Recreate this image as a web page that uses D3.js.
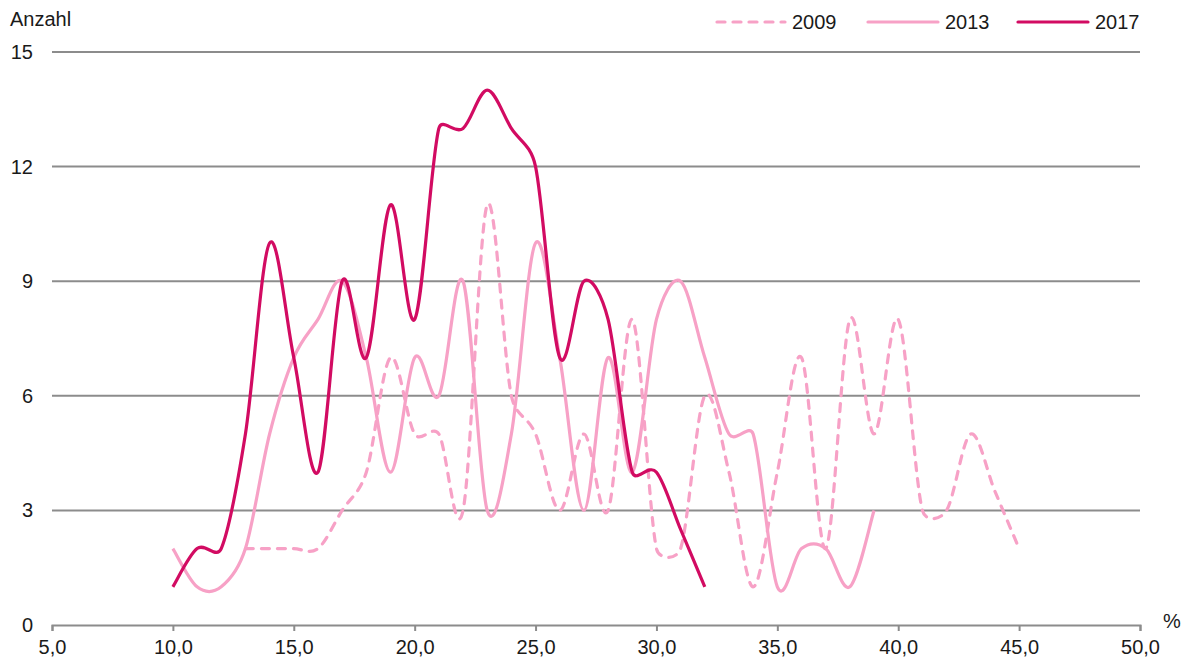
<!DOCTYPE html>
<html><head><meta charset="utf-8">
<script src="https://cdn.jsdelivr.net/npm/d3@7"></script>
<style>
body{margin:0;background:#fff;}
text{font-family:"Liberation Sans",Arial,Helvetica,sans-serif;fill:#1a1a1a;}
</style></head>
<body><svg id="c" width="1190" height="668"></svg>
<script>
const x2009 = [13,14,15,16,17,18,19,20,21,22,23,24,25,26,27,28,29,30,31,32,33,34,35,36,37,38,39,40,41,42,43,44,45];
const v2009 = [2,2,2,2,3,4,7,5,5,3,11,6,5,3,5,3,8,2,2,6,4,1,4,7,2,8,5,8,3,3,5,3.5,2];
const x2013 = [10,11,12,13,14,15,16,17,18,19,20,21,22,23,24,25,26,27,28,29,30,31,32,33,34,35,36,37,38,39];
const v2013 = [2,1,1,2,5,7,8,9,7,4,7,6,9,3,5,10,7,3,7,4,8,9,7,5,5,1,2,2,1,3];
const x2017 = [10,11,12,13,14,15,16,17,18,19,20,21,22,23,24,25,26,27,28,29,30,31,32];
const v2017 = [1,2,2,5,10,7,4,9,7,11,8,13,13,14,13,12,7,9,8,4,4,2.5,1];
const xTicks = [5,10,15,20,25,30,35,40,45,50];
const yTicks = [0,3,6,9,12,15];
const seriesNames = ["2009","2013","2017"];

const colors = {"2009":"#f7a1c6","2013":"#f7a1c6","2017":"#d20b62"};
const FS = 20;
const svg = d3.select("#c");
const x = d3.scaleLinear().domain([5,50]).range([52,1140]);
const y = d3.scaleLinear().domain([0,15]).range([625,52]);
const fmt = d => d.toFixed(1).replace(".", ",");

svg.append("g").selectAll("line").data(yTicks.filter(d=>d>0)).join("line")
  .attr("x1",x(5)).attr("x2",x(50)).attr("y1",d=>y(d)).attr("y2",d=>y(d))
  .attr("stroke","#8c8c8c").attr("stroke-width",2);
svg.append("g").selectAll("text").data(yTicks).join("text")
  .attr("x",33).attr("y",d=>y(d)).attr("dy","0.35em").attr("text-anchor","end")
  .attr("font-size",FS).text(d=>d);
const xa = svg.append("g").attr("transform",`translate(0,${y(0)})`)
  .call(d3.axisBottom(x).tickValues(xTicks).tickFormat(fmt).tickSizeOuter(0).tickSize(6).tickPadding(9));
xa.select(".domain").attr("stroke","#8c8c8c").attr("stroke-width",2);
xa.selectAll(".tick line").attr("stroke","#8c8c8c").attr("stroke-width",2);
xa.selectAll(".tick text").attr("font-size",FS).attr("font-family","Liberation Sans, Arial, sans-serif").attr("fill","#1a1a1a");

svg.append("text").attr("x",10).attr("y",26).attr("font-size",FS).text("Anzahl");
svg.append("text").attr("x",1163).attr("y",628).attr("font-size",FS).text("%");

// Excel-like smoothing: Catmull-Rom tangents, control distance capped by segment length
function smoothPath(xs, vs){
  const pts = xs.map((d,i)=>[x(d), y(vs[i])]);
  const p = d3.path();
  const cap = 0.5, n = pts.length;
  p.moveTo(pts[0][0], pts[0][1]);
  for(let i=0;i<n-1;i++){
    const P1 = pts[i], P2 = pts[i+1];
    const P0 = pts[i-1] || P1, P3 = pts[i+2] || P2;
    const seg = Math.hypot(P2[0]-P1[0], P2[1]-P1[1]);
    const t1 = [(P2[0]-P0[0])/6, (P2[1]-P0[1])/6];
    const l1 = Math.hypot(t1[0],t1[1]);
    const s1 = l1 > cap*seg ? cap*seg/l1 : 1;
    const t2 = [(P3[0]-P1[0])/6, (P3[1]-P1[1])/6];
    const l2 = Math.hypot(t2[0],t2[1]);
    const s2 = l2 > cap*seg ? cap*seg/l2 : 1;
    p.bezierCurveTo(P1[0]+t1[0]*s1, P1[1]+t1[1]*s1, P2[0]-t2[0]*s2, P2[1]-t2[1]*s2, P2[0], P2[1]);
  }
  return p.toString();
}
const data = {"2009":[x2009,v2009],"2013":[x2013,v2013],"2017":[x2017,v2017]};
seriesNames.forEach(n=>{
  svg.append("path").attr("d",smoothPath(data[n][0], data[n][1])).attr("fill","none")
    .attr("stroke",colors[n]).attr("stroke-width",3.2)
    .attr("stroke-linecap",n==="2009"?"round":"butt")
    .attr("stroke-linejoin","round")
    .attr("stroke-dasharray",n==="2009"?"8,8":null);
});

const legX = [715,868,1018];
seriesNames.forEach((n,i)=>{
  const g = svg.append("g");
  g.append("line").attr("x1",legX[i]+(n==="2009"?2:0)).attr("x2",legX[i]+70).attr("y1",22).attr("y2",22)
    .attr("stroke",colors[n]).attr("stroke-width",3.2)
    .attr("stroke-linecap","round")
    .attr("stroke-dasharray",n==="2009"?"8,8":null);
  g.append("text").attr("x",legX[i]+77).attr("y",22).attr("dy","0.35em").attr("font-size",FS).text(n);
});
</script></body></html>
